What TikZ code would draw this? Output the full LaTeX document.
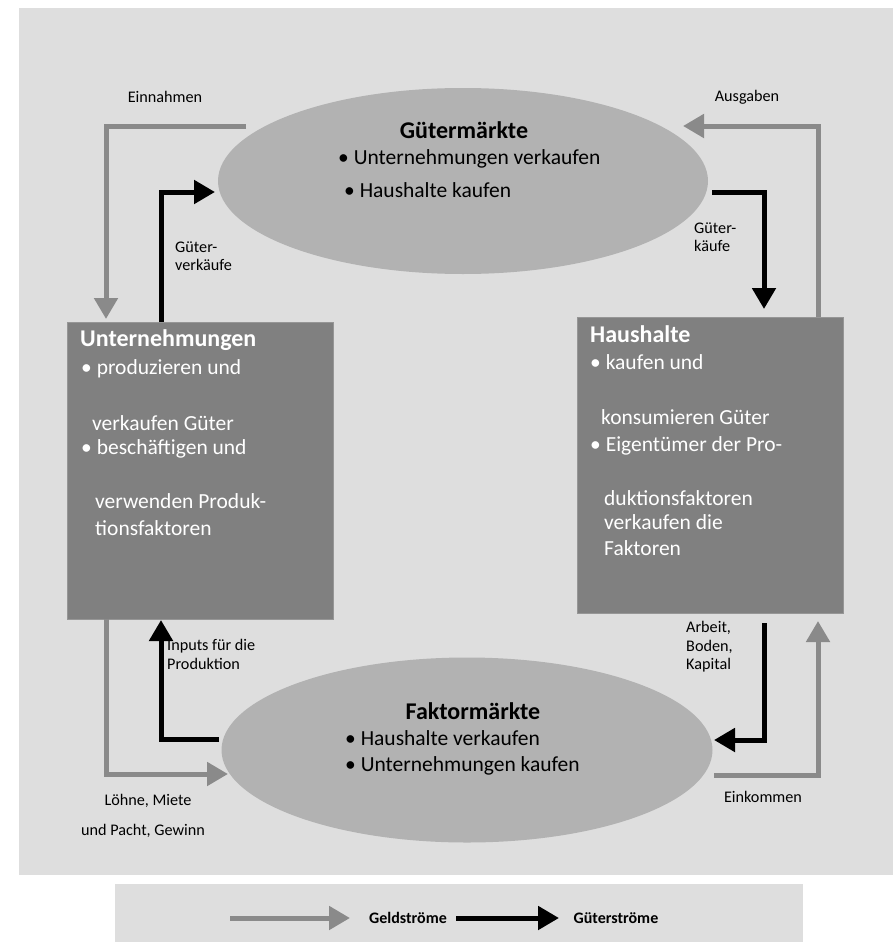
\documentclass[tikz,border=0pt]{standalone}
\usepackage{fontspec}
\setmainfont{Carlito}
\usetikzlibrary{shapes.geometric,arrows.meta}
\definecolor{panelc}{RGB}{222,222,222}
\definecolor{ellc}{RGB}{178,178,178}
\definecolor{boxc}{RGB}{128,128,128}
\definecolor{boxedge}{RGB}{150,150,150}
\definecolor{geldc}{RGB}{138,138,138}
\begin{document}
\begin{tikzpicture}[x=1pt,y=-1pt,
  geld/.style={draw=geldc, line width=5pt, -{Triangle[width=23pt,length=21pt]}},
  gut/.style={draw=black, line width=5pt, -{Triangle[width=23pt,length=21pt]}},
  market/.style={ellipse, fill=ellc, inner sep=0pt},
  actor/.style={rectangle, fill=boxc, draw=boxedge, line width=0.8pt, inner sep=0pt},
  mtitle/.style={font=\bfseries\fontsize{24}{28}\selectfont, anchor=base, inner sep=0pt},
  mtext/.style={font=\fontsize{21.5}{25}\selectfont, anchor=base west, inner sep=0pt},
  btitle/.style={text=white, font=\bfseries\fontsize{24}{28}\selectfont, anchor=base west, inner sep=0pt},
  btext/.style={text=white, font=\fontsize{21.5}{25}\selectfont, anchor=base west, inner sep=0pt},
  lbl/.style={font=\fontsize{16.2}{18.5}\selectfont, align=left, inner sep=0pt},
  leg/.style={font=\bfseries\fontsize{16}{18}\selectfont, inner sep=0pt}
]
\useasboundingbox (0,0) rectangle (893,942);
\fill[white] (0,0) rectangle (893,942);
% panels
\fill[panelc] (19,8) rectangle (893,875);
\fill[panelc] (115,884) rectangle (803,942);

% markets
\node[market, minimum width=490pt, minimum height=186pt] (gm) at (463,181) {};
\node[market, minimum width=491pt, minimum height=185pt] (fm) at (467,750) {};

% actors
\node[actor, minimum width=266pt, minimum height=297pt] (u) at (200,470.5) {};
\node[actor, minimum width=266pt, minimum height=296pt] (h) at (710,465) {};

% market texts
\node[mtitle] (gmt) at (464,138) {Gütermärkte};
\node[mtext] (gm1) at (338,164) {• Unternehmungen verkaufen};
\node[mtext] (gm2) at (344,197) {• Haushalte kaufen};
\node[mtitle] (fmt) at (473,719) {Faktormärkte};
\node[mtext] (fm1) at (345,745) {• Haushalte verkaufen};
\node[mtext] (fm2) at (345,771) {• Unternehmungen kaufen};

% Unternehmungen texts
\node[btitle] (ut) at (80,346) {Unternehmungen};
\node[btext] (u1) at (81,374) {• produzieren und};
\node[btext] (u2) at (92,430) {verkaufen Güter};
\node[btext] (u3) at (81,454) {• beschäftigen und};
\node[btext] (u4) at (95,508) {verwenden Produk-};
\node[btext] (u5) at (95,535) {tionsfaktoren};

% Haushalte texts
\node[btitle] (ht) at (590,342) {Haushalte};
\node[btext] (h1) at (590,369) {• kaufen und};
\node[btext] (h2) at (601,424) {konsumieren Güter};
\node[btext] (h3) at (590,451) {• Eigentümer der Pro-};
\node[btext] (h4) at (604,505) {duktionsfaktoren};
\node[btext] (h5) at (604,529) {verkaufen die};
\node[btext] (h6) at (604,555) {Faktoren};

% connector end points
\coordinate (einA) at (246,126);
\coordinate (einB) at (106,319);
\coordinate (ausA) at (818,317);
\coordinate (ausB) at (683,126);
\coordinate (gvA) at (161,322);
\coordinate (gvB) at (215,192);
\coordinate (gkA) at (712,192);
\coordinate (gkB) at (764,309);
\coordinate (inA) at (219,739);
\coordinate (inB) at (161,620);
\coordinate (abA) at (764,623);
\coordinate (abB) at (714,740);
\coordinate (loA) at (106,619);
\coordinate (loB) at (228,774);
\coordinate (ekA) at (714,775);
\coordinate (ekB) at (818,621);

% flows
\draw[geld] (einA) -| (einB);
\draw[geld] (ausA) |- (ausB);
\draw[gut] (gvA) |- (gvB);
\draw[gut] (gkA) -| (gkB);
\draw[gut] (inA) -| (inB);
\draw[gut] (abA) |- (abB);
\draw[geld] (loA) |- (loB);
\draw[geld] (ekA) -| (ekB);

% labels
\node[lbl] (lein) at (165,97) {Einnahmen};
\node[lbl] (laus) at (747,97) {Ausgaben};
\node[lbl, anchor=west] (lgv) at (175,256) {Güter-\\verkäufe};
\node[lbl, anchor=west] (lgk) at (694,237) {Güter-\\käufe};
\node[lbl, anchor=west] (lin) at (167,654.5) {Inputs für die\\Produktion};
\node[lbl, anchor=west] (lab) at (686,647) {Arbeit,\\Boden,\\Kapital};
\node[lbl] (llo1) at (148,801) {Löhne, Miete};
\node[lbl] (llo2) at (143,831) {und Pacht, Gewinn};
\node[lbl] (lek) at (763,797) {Einkommen};

% legend
\coordinate (lgA) at (230,918);
\coordinate (lgB) at (350,918);
\node[leg] (lgeld) at (408,918) {Geldströme};
\coordinate (lbA) at (456,918);
\coordinate (lbB) at (559,918);
\node[leg] (lgut) at (616,918) {Güterströme};
\draw[geld] (lgA) -- (lgB);
\draw[gut] (lbA) -- (lbB);
\end{tikzpicture}
\end{document}
